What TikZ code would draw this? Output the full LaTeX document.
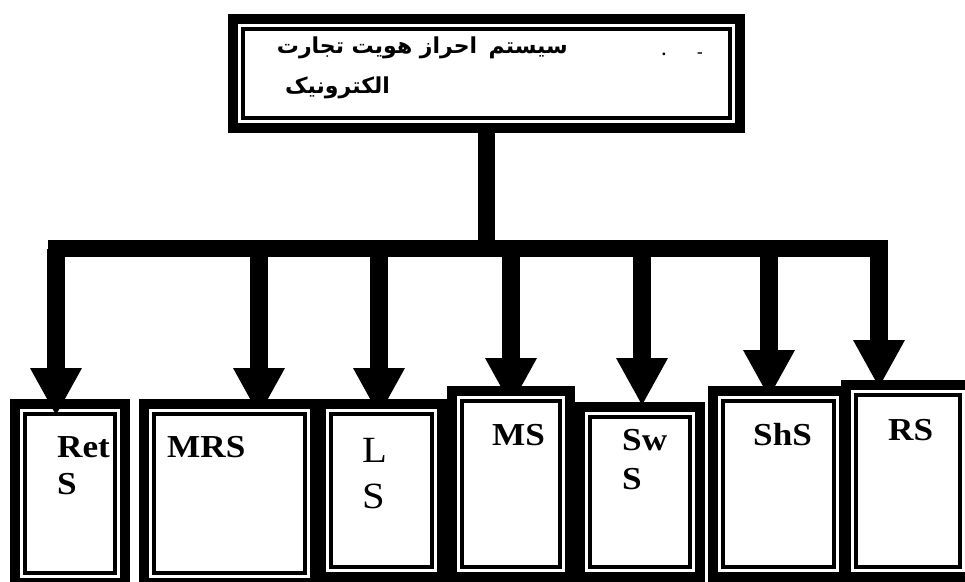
\documentclass[tikz,border=0pt]{standalone}
\usepackage{fontspec}
\setmainfont{Liberation Serif}
\newfontfamily\labfont[FakeStretch=1.1]{Liberation Serif}
\newfontfamily\arabicfont[Script=Arabic]{DejaVu Sans}
\TeXXeTstate=1
\usetikzlibrary{arrows.meta,calc}
\tikzset{
  dbox/.style={fill=white, draw=black, line width=3.5pt,
    preaction={draw=black, line width=30pt},
    preaction={draw=white, line width=10pt},
    inner sep=0pt, outer sep=0pt},
  shaft/.style={draw=black, line width=18pt},
  arr/.style={shaft, -{Triangle[width=52pt,length=47pt,line width=0pt]}},
  lab/.style={font=\labfont\bfseries\fontsize{32}{36}\selectfont, inner sep=0pt, anchor=base west},
  labreg/.style={font=\labfont\fontsize{37}{40}\selectfont, inner sep=0pt, anchor=base west},
  fa/.style={font=\arabicfont\bfseries\fontsize{22}{26}\selectfont, inner sep=0pt},
  dotlab/.style={font=\bfseries\fontsize{17}{19}\selectfont, inner sep=0pt, anchor=base}
}
\begin{document}
\begin{tikzpicture}[x=1pt,y=-1pt]
\useasboundingbox (0,0) rectangle (965,581);
\clip (0,0) rectangle (965,581);
% junctions on the bar
\coordinate (j1) at (56,248.5);
\coordinate (j2) at (259,248.5);
\coordinate (j3) at (379,248.5);
\coordinate (j4) at (511,248.5);
\coordinate (j5) at (642,248.5);
\coordinate (j6) at (769,248.5);
\coordinate (j7) at (879,248.5);
\coordinate (jm) at (486.5,248.5);
% top box and the stem / bar behind it
\path (486.5,73.5) coordinate (ctop);
\draw[line width=17pt] (ctop |- 0,118) -- (jm);
\draw[line width=17pt, line cap=rect] (j1) -- (j7);
\node[dbox, minimum width=487pt, minimum height=89pt] (top) at (ctop) {};
% box centres and top edges
\path (70,493.5) coordinate (c1) (229.5,493.5) coordinate (c2) (381.5,490.5) coordinate (c3)
      (511,484) coordinate (c4) (640,492) coordinate (c5) (778.5,484) coordinate (c6)
      (908,481) coordinate (c7);
\coordinate (n2) at (229.5,414);
\coordinate (n3) at (381.5,414);
\coordinate (n4) at (511,401);
\coordinate (n5) at (640,417);
\coordinate (n6) at (778.5,401);
\coordinate (n7) at (908,395);
% arrows that pass behind their boxes
\draw[arr, shorten >=-1pt] (j2) -- (j2 |- n2);
\draw[arr, shorten >=-1pt] (j3) -- (j3 |- n3);
\draw[arr, shorten >=-4pt] (j4) -- (j4 |- n4);
\draw[arr, shorten >=12pt] (j5) -- (j5 |- n5);
\draw[arr, shorten >=4pt] (j6) -- (j6 |- n6);
\draw[arr, shorten >=8pt] (j7) -- (j7 |- n7);
% boxes
\node[dbox, minimum width=151pt, minimum height=159pt] (b2) at (c2) {};
\node[dbox, minimum width=101pt, minimum height=153pt] (b3) at (c3) {};
\node[dbox, minimum width=98pt, minimum height=166pt] (b4) at (c4) {};
\node[dbox, minimum width=100pt, minimum height=150pt] (b5) at (c5) {};
\node[dbox, minimum width=111pt, minimum height=166pt] (b6) at (c6) {};
\node[dbox, minimum width=104pt, minimum height=172pt] (b7) at (c7) {};
\node[dbox, minimum width=90pt, minimum height=159pt] (b1) at (c1) {};
% arrow in front of its box
\draw[arr, shorten >=-1pt] (j1) -- (j1 |- b1.north);
% labels
\node[lab] (t1a) at (57,457) {Ret};
\node[lab] (t1b) at (57,494) {S};
\node[lab] (t2) at (167,457) {MRS};
\node[labreg] (t3a) at (362,462) {L};
\node[labreg] (t3b) at (362,508) {S};
\node[lab] (t4) at (492,445) {MS};
\node[lab] (t5a) at (622,450) {Sw};
\node[lab] (t5b) at (622,489) {S};
\node[lab] (t6) at (753,445) {ShS};
\node[lab] (t7) at (888,440) {RS};
% Persian title
\node[fa, anchor=base east] (p1) at (568,53) {\beginR سیستم\ \,احراز هویت تجارت\endR};
\node[fa, anchor=base west] (p2) at (285,93) {\beginR الکترونیک\endR};
\node[dotlab] (d1) at (664,55) {.};
\node[dotlab] (d2) at (700,57) {-};
\end{tikzpicture}
\end{document}
